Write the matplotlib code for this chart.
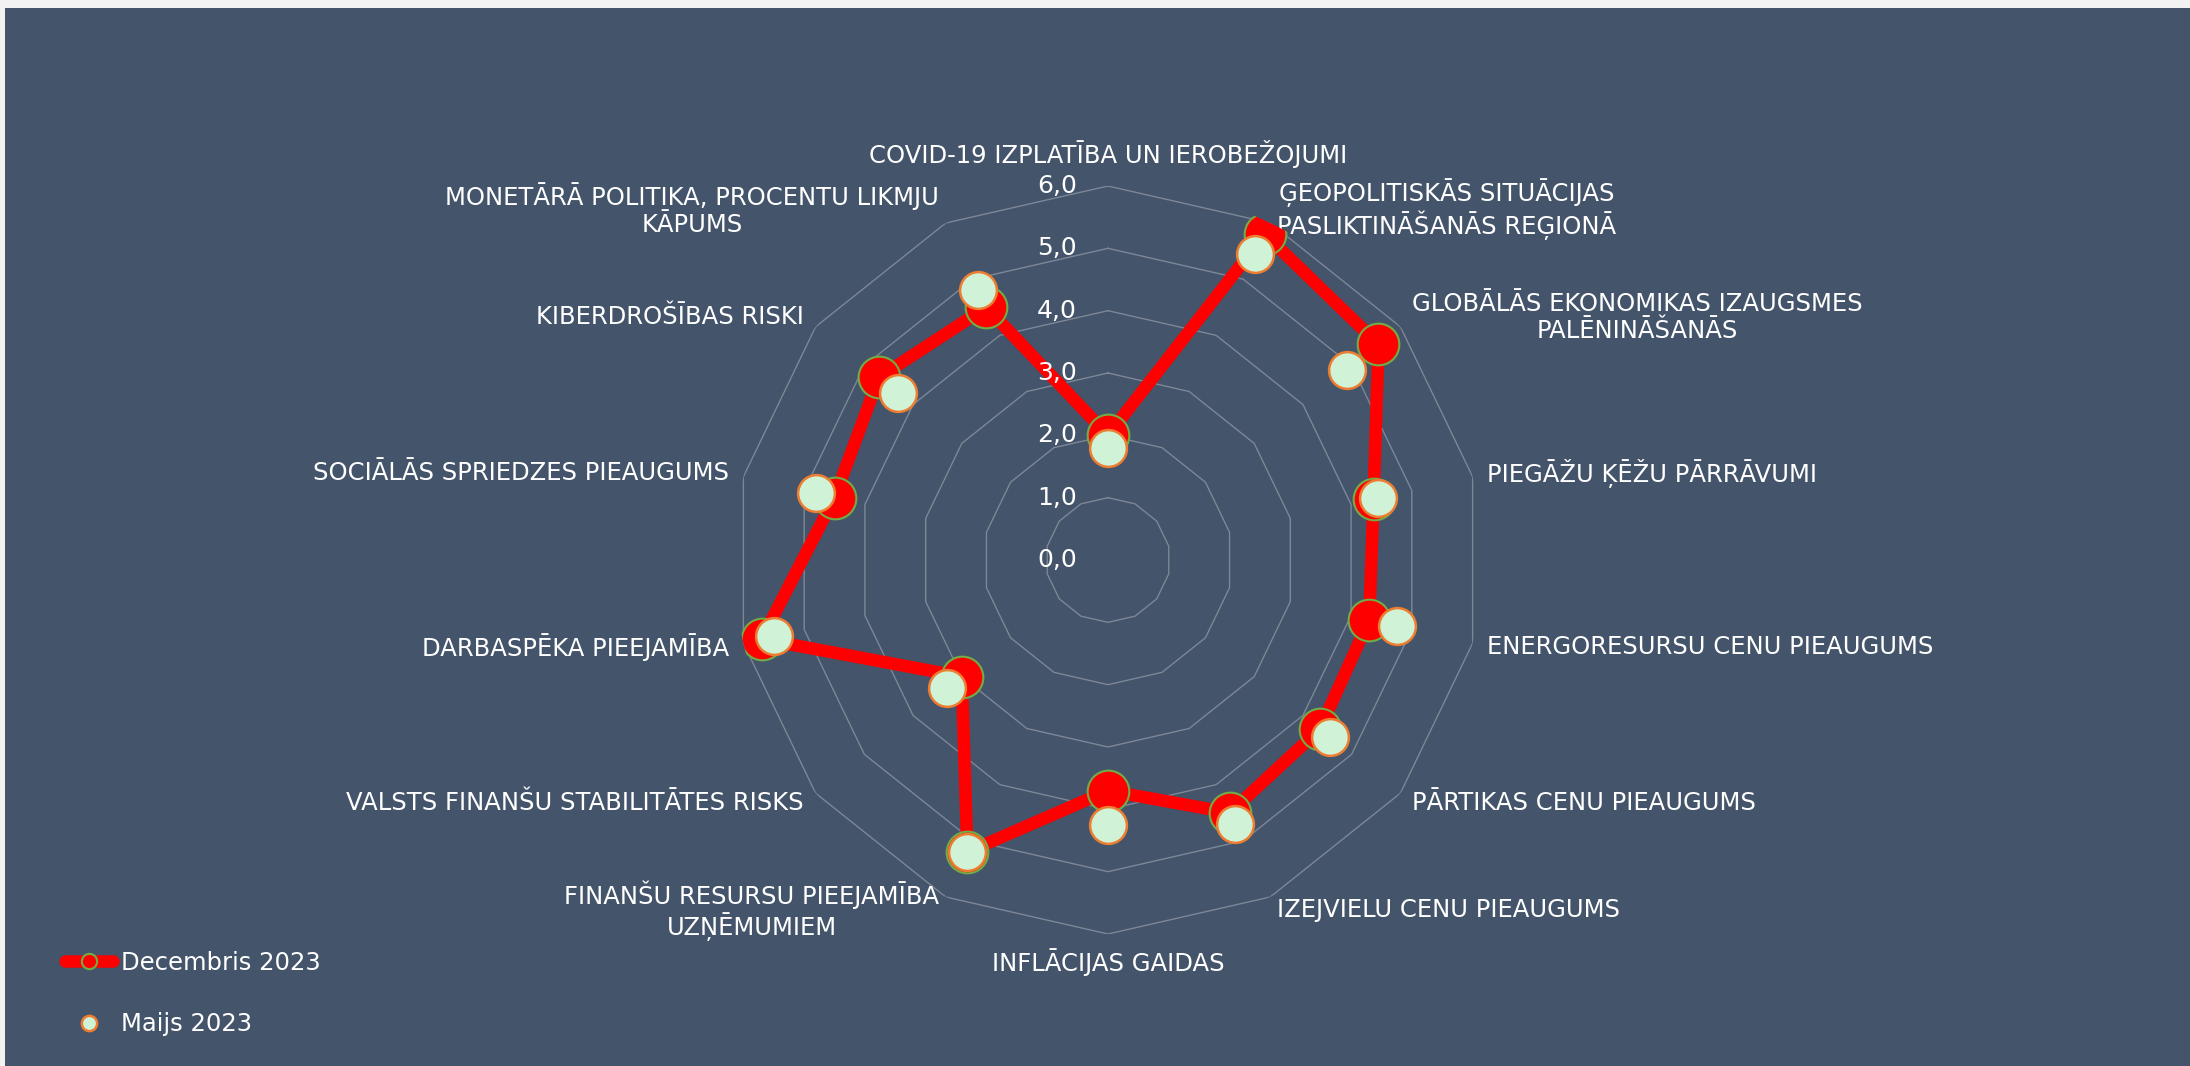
import numpy as np
import matplotlib
matplotlib.use("Agg")
import matplotlib.pyplot as plt
from matplotlib.lines import Line2D
from matplotlib.patches import Rectangle

categories = [
    "COVID-19 IZPLATĪBA UN IEROBEŽOJUMI",
    "ĢEOPOLITISKĀS SITUĀCIJAS\nPASLIKTINĀŠANĀS REĢIONĀ",
    "GLOBĀLĀS EKONOMIKAS IZAUGSMES\nPALĒNINĀŠANĀS",
    "PIEGĀŽU ĶĒŽU PĀRRĀVUMI",
    "ENERGORESURSU CENU PIEAUGUMS",
    "PĀRTIKAS CENU PIEAUGUMS",
    "IZEJVIELU CENU PIEAUGUMS",
    "INFLĀCIJAS GAIDAS",
    "FINANŠU RESURSU PIEEJAMĪBA\nUZŅĒMUMIEM",
    "VALSTS FINANŠU STABILITĀTES RISKS",
    "DARBASPĒKA PIEEJAMĪBA",
    "SOCIĀLĀS SPRIEDZES PIEAUGUMS",
    "KIBERDROŠĪBAS RISKI",
    "MONETĀRĀ POLITIKA, PROCENTU LIKMJU\nKĀPUMS",
]
dec_2023 = [2.0, 5.8, 5.55, 4.37, 4.3, 4.35, 4.5, 3.7, 5.2, 3.0, 5.7, 4.5, 4.7, 4.5]
may_2023 = [1.8, 5.45, 4.9, 4.45, 4.75, 4.55, 4.7, 4.25, 5.2, 3.3, 5.5, 4.8, 4.3, 4.8]
ticks = [0, 1, 2, 3, 4, 5, 6]
tick_labels = ["0,0", "1,0", "2,0", "3,0", "4,0", "5,0", "6,0"]
series_names = ["Decembris 2023", "Maijs 2023"]

bg = "#44546A"
grid_col = "#7D8796"
fs = 17.5

fig = plt.figure(figsize=(21.9, 10.66), dpi=100, facecolor="#F2F2F2")
fig.patches.append(Rectangle((5 / 2190, 0), 1, 1 - 8 / 1066, transform=fig.transFigure,
                             facecolor=bg, edgecolor="none", zorder=-10))

# polar axes centred at (1108, 560) px, r=6 -> 374 px
cx, cy, R = 1108 / 2190, (1066 - 560) / 1066, 374
ax = fig.add_axes([cx - R / 2190, cy - R / 1066, 2 * R / 2190, 2 * R / 1066], projection="polar")
ax.set_facecolor("none")
ax.set_theta_zero_location("N")
ax.set_theta_direction(-1)
ax.set_ylim(0, 6)
ax.grid(False)
ax.spines["polar"].set_visible(False)
ax.set_xticks([])
ax.set_yticks([])

n = len(categories)
ang = np.linspace(0, 2 * np.pi, n, endpoint=False)
ang_c = np.append(ang, ang[0])

for t in ticks[1:]:
    ax.plot(ang_c, [t] * (n + 1), color=grid_col, lw=1.0, zorder=1)

for t, lab in zip(ticks, tick_labels):
    ax.annotate(lab, xy=(0, t), xytext=(-31, 0), textcoords="offset pixels",
                ha="right", va="center", color="white", fontsize=fs + 0.5, zorder=6)

# category labels
for a, lab in zip(ang, categories):
    s, c = np.sin(a), np.cos(a)
    if abs(s) < 1e-6:
        off = (0, 32 if c > 0 else -28)
        ha = "center"
    else:
        off = (15 * s, 15 * c)
        ha = "left" if s > 0 else "right"
    ax.annotate(lab, xy=(a, 6), xytext=off, textcoords="offset pixels",
                ha=ha, va="center", multialignment="center", color="white",
                fontsize=fs, linespacing=1.15, annotation_clip=False)

dec_c = dec_2023 + dec_2023[:1]
ax.plot(ang_c, dec_c, color="red", lw=9, solid_joinstyle="round", zorder=3)
ax.plot(ang, dec_2023, ls="none", marker="o", ms=30, mfc="red", mec="#70AD47", mew=1.5, zorder=4)
ax.plot(ang, may_2023, ls="none", marker="o", ms=26.5, mfc="#D0F2D6", mec="#ED7D31", mew=1.8, zorder=5)

handles = [
    Line2D([], [], color="red", lw=9, solid_capstyle="round", marker="o", ms=11,
           mfc="red", mec="#70AD47", mew=1.5),
    Line2D([], [], ls="none", marker="o", ms=11, mfc="#D0F2D6", mec="#ED7D31", mew=1.8),
]
fig.legend(handles, series_names, loc="lower left", bbox_to_anchor=(55 / 2190, 20 / 1066),
           frameon=False, fontsize=fs, labelcolor="white", handlelength=2.0,
           handletextpad=0.3, labelspacing=1.55, borderaxespad=0)

fig.savefig("out.png", dpi=100, facecolor=fig.get_facecolor())
